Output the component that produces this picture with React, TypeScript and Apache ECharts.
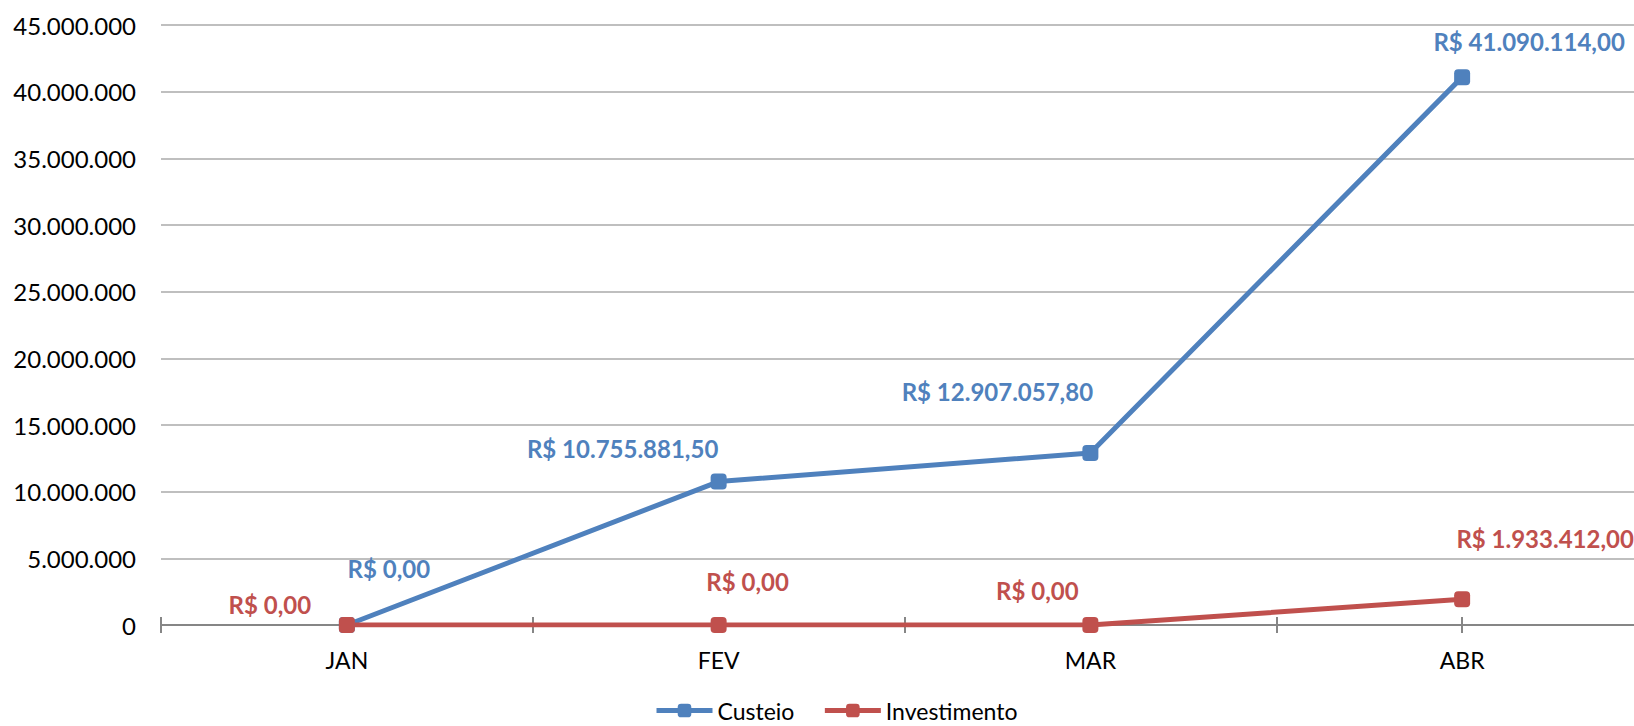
import React, { useEffect, useRef } from "react";
import * as echarts from "echarts";

const categories = ["JAN", "FEV", "MAR", "ABR"];
const custeio = [0, 10755881.5, 12907057.8, 41090114];
const investimento = [0, 0, 0, 1933412];
const custeioLabelOffsets = [[42, -57], [-96, -33], [-93, -61], [67, -36]];
const investimentoLabelOffsets = [[-77, -21], [29, -44], [-53, -35], [83, -61]];
const yTicks = { min: 0, max: 45000000, interval: 5000000 };

function groupThousands(intPart: string): string {
  return intPart.replace(/\B(?=(\d{3})+(?!\d))/g, ".");
}
function brl(v: number): string {
  const fixed = v.toFixed(2);
  const [i, d] = fixed.split(".");
  return "R$ " + groupThousands(i) + "," + d;
}

const FONT = "Lato";
const BLUE = "#4F81BD";
const RED = "#C0504D";

export default function App() {
  const ref = useRef<HTMLDivElement>(null);
  useEffect(() => {
    document.body.style.margin = "0";
    document.body.style.overflow = "hidden";
    const chart = echarts.init(ref.current!, undefined, { renderer: "svg" });
    const mk = (vals: number[], offs: number[][]) =>
      vals.map((v, i) => ({
        value: v,
        label: { offset: offs[i] },
      }));
    chart.setOption({
      animation: false,
      grid: { left: 161, right: 0, top: 25, bottom: 101, containLabel: false },
      legend: {
        left: 654,
        top: 699,
        padding: 0,
        itemWidth: 56,
        itemHeight: 17,
        itemGap: 28,
        lineStyle: { width: 5 },
        textStyle: { fontFamily: FONT, fontSize: 23, lineHeight: 22, color: "#000" },
        data: ["Custeio", "Investimento"],
      },
      xAxis: [
        {
          type: "category",
          data: categories,
          boundaryGap: true,
          axisLine: { show: true, lineStyle: { color: "#868686", width: 2 } },
          axisTick: { show: false },
          axisLabel: { fontFamily: FONT, fontSize: 23, color: "#000", margin: 23 },
        },
        {
          type: "category",
          data: categories,
          boundaryGap: true,
          position: "bottom",
          offset: -8,
          axisLine: { show: false },
          axisTick: { show: true, interval: 0, length: 16, lineStyle: { color: "#868686", width: 2 } },
          axisLabel: { show: false },
        },
        {
          type: "category",
          data: categories,
          boundaryGap: true,
          position: "bottom",
          offset: -8,
          axisLine: { show: false },
          axisTick: { show: true, interval: 0, alignWithLabel: true, length: 16, lineStyle: { color: "#868686", width: 2 } },
          axisLabel: { show: false },
        },
      ],
      yAxis: {
        type: "value",
        min: yTicks.min,
        max: yTicks.max,
        interval: yTicks.interval,
        axisLine: { show: false },
        axisTick: { show: false },
        splitLine: { lineStyle: { color: "#BFBFBF", width: 2 } },
        axisLabel: {
          fontFamily: FONT,
          fontSize: 24,
          color: "#000",
          margin: 25,
          formatter: (v: number) => groupThousands(String(Math.round(v))),
        },
      },
      series: [
        {
          name: "Custeio",
          type: "line",
          data: mk(custeio, custeioLabelOffsets),
          symbol: "roundRect",
          symbolSize: 16,
          itemStyle: { color: BLUE },
          lineStyle: { color: BLUE, width: 5 },
          label: {
            show: true,
            position: "inside",
            fontFamily: FONT,
            fontWeight: "bold",
            fontSize: 24,
            color: BLUE,
            formatter: (p: any) => brl(p.value),
          },
        },
        {
          name: "Investimento",
          type: "line",
          data: mk(investimento, investimentoLabelOffsets),
          symbol: "roundRect",
          symbolSize: 16,
          itemStyle: { color: RED },
          lineStyle: { color: RED, width: 5 },
          label: {
            show: true,
            position: "inside",
            fontFamily: FONT,
            fontWeight: "bold",
            fontSize: 24,
            color: RED,
            formatter: (p: any) => brl(p.value),
          },
        },
      ],
    });
    return () => chart.dispose();
  }, []);
  return (
    <div style={{ width: 1634, height: 726, overflow: "hidden", position: "relative" }}>
      <div ref={ref} style={{ width: 1648, height: 726 }} />
    </div>
  );
}
